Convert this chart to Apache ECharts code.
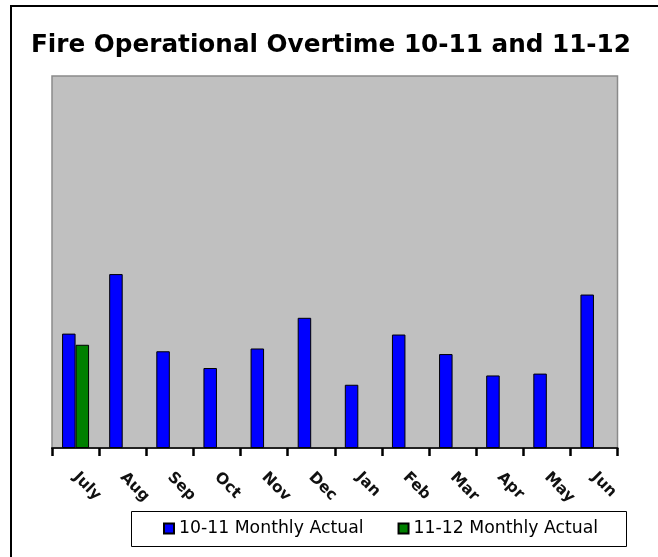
<!DOCTYPE html>
<html>
<head>
<meta charset="utf-8">
<script src="https://cdn.jsdelivr.net/npm/echarts@6/dist/echarts.min.js"></script>
<style>
html,body{margin:0;padding:0;background:#fff;}
#chart{width:658px;height:557px;}
</style>
</head>
<body>
<div id="chart"></div>
<script>
const months = ['July','Aug','Sep','Oct','Nov','Dec','Jan','Feb','Mar','Apr','May','Jun'];
const actual1011 = [123, 187, 104, 86, 107, 140, 68, 122, 101, 78, 80, 165];
const actual1112 = [111, null, null, null, null, null, null, null, null, null, null, null];
const seriesNames = ['10-11 Monthly Actual', '11-12 Monthly Actual'];
const titleText = 'Fire Operational Overtime 10-11 and 11-12';

const chart = echarts.init(document.getElementById('chart'), null, {renderer:'canvas'});
chart.setOption({
  animation: false,
  backgroundColor: '#ffffff',
  title: {
    text: titleText,
    left: 26, top: 28,
    textStyle: {fontFamily: 'DejaVu Sans', fontWeight: 'bold', fontSize: 24.7, color: '#000'}
  },
  graphic: [
    {type: 'rect', shape: {x: 11, y: 6, width: 700, height: 600}, style: {fill: 'none', stroke: '#000', lineWidth: 2}, silent: true, z: -10},
    {type: 'rect', shape: {x: 131.5, y: 511.5, width: 495, height: 35}, style: {fill: '#fff', stroke: '#000', lineWidth: 1}, silent: true, z: 0}
  ],
  legend: {
    left: 163, top: 520, padding: 0, itemGap: 34,
    itemWidth: 10, itemHeight: 10, icon: 'rect',
    textStyle: {fontFamily: 'DejaVu Sans', fontSize: 17.3, color: '#000'},
    data: seriesNames,
    z: 5
  },
  grid: {
    left: 52, right: 40.5, top: 76, bottom: 109,
    show: true, backgroundColor: '#C0C0C0', borderColor: '#8a8a8a', borderWidth: 1.5
  },
  xAxis: {
    type: 'category', data: months,
    boundaryGap: true,
    axisLine: {lineStyle: {color: '#222', width: 2}},
    axisTick: {show: true, length: 8, lineStyle: {color: '#000', width: 2.5}},
    axisLabel: {
      interval: 0, rotate: -45, margin: 27,
      fontFamily: 'DejaVu Sans', fontWeight: 'bold', fontSize: 15.5, color: '#111',
      textShadowColor: 'rgba(0,0,0,0.55)', textShadowOffsetX: 1.5, textShadowOffsetY: 1.5, textShadowBlur: 0
    }
  },
  yAxis: {
    type: 'value', min: 0, max: 400, show: false,
    splitLine: {show: false}
  },
  series: [
    {name: seriesNames[0], type: 'bar', data: actual1011, barWidth: 13.5, barGap: '0%',
     itemStyle: {color: '#0000FF', borderColor: '#000', borderWidth: 1}},
    {name: seriesNames[1], type: 'bar', data: actual1112, barWidth: 13.5, barGap: '0%',
     itemStyle: {color: '#008000', borderColor: '#000', borderWidth: 1}}
  ]
});
</script>
</body>
</html>
